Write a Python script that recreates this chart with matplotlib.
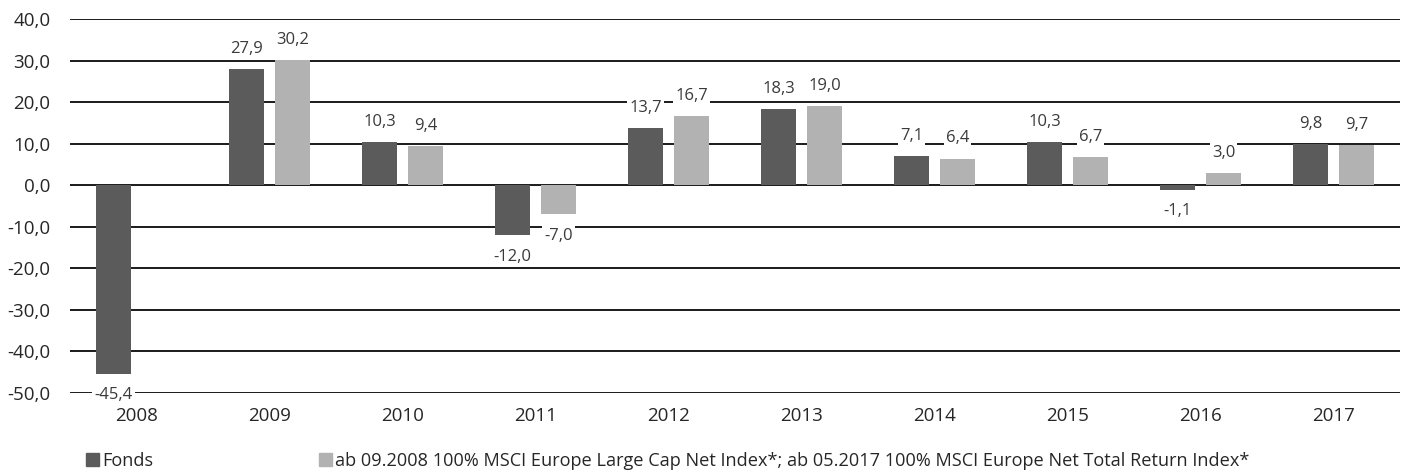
import numpy as np
import matplotlib
matplotlib.use("Agg")
import matplotlib.pyplot as plt
from matplotlib.patches import Patch

# values (percent per calendar year)
years = ["2008", "2009", "2010", "2011", "2012",
         "2013", "2014", "2015", "2016", "2017"]
fonds = [-45.4, 27.9, 10.3, -12.0, 13.7, 18.3, 7.1, 10.3, -1.1, 9.8]
index = [np.nan, 30.2, 9.4, -7.0, 16.7, 19.0, 6.4, 6.7, 3.0, 9.7]
series_names = [
    "Fonds",
    "ab 09.2008 100% MSCI Europe Large Cap Net Index*; "
    "ab 05.2017 100% MSCI Europe Net Total Return Index*",
]
y_ticks = [40, 30, 20, 10, 0, -10, -20, -30, -40, -50]

DARK = "#5b5b5b"
LIGHT = "#b2b2b2"
TEXT = "#262626"

plt.rcParams["font.family"] = ["Open Sans", "DejaVu Sans"]

fig = plt.figure(figsize=(14.05, 4.72), dpi=100)
ax = fig.add_axes([70 / 1405, 1 - 393 / 472, 1330 / 1405, 374 / 472])

x = np.arange(len(years))
width = 0.263
offset = 0.173


def _fmt(v):
    return f"{v:.1f}".replace(".", ",")


def _label_bars(ax, xs, vals):
    for xi, v in zip(xs, vals):
        if np.isnan(v):
            continue
        dy = 14.5 if v >= 0 else -15.5
        ax.annotate(_fmt(v), (xi, v), xytext=(0, dy),
                    textcoords="offset points", ha="center", va="center",
                    fontsize=12, color="#3a3a3a", zorder=5,
                    bbox=dict(boxstyle="square,pad=0.12", fc="white",
                              ec="none"))


for t in y_ticks:
    ax.axhline(t, color="#1a1a1a", lw=1.4, zorder=1)

ax.bar(x - offset, fonds, width, color=DARK, zorder=2)
ax.bar(x + offset, index, width, color=LIGHT, zorder=2)
_label_bars(ax, x - offset, fonds)
_label_bars(ax, x + offset, index)

ax.set_xlim(-0.5, len(years) - 0.5)
ax.set_ylim(-50, 40)
ax.set_yticks(y_ticks)
ax.set_yticklabels([_fmt(t) for t in y_ticks])
ax.set_xticks(x)
ax.set_xticklabels(years)
ax.tick_params(axis="y", length=0, pad=14, labelsize=13.5, labelcolor=TEXT)
ax.tick_params(axis="x", length=0, pad=10, labelsize=13.5, labelcolor=TEXT)
for s in ax.spines.values():
    s.set_visible(False)

handles = [Patch(color=DARK), Patch(color=LIGHT)]
fig.legend(handles, series_names, loc="center left",
           bbox_to_anchor=(86 / 1405, 11 / 472), ncol=2, frameon=False,
           fontsize=13.1, handlelength=0.7, handleheight=0.7,
           handletextpad=0.2, columnspacing=9.1, borderpad=0,
           borderaxespad=0, labelcolor=TEXT)

fig.savefig("out.png", dpi=100)
